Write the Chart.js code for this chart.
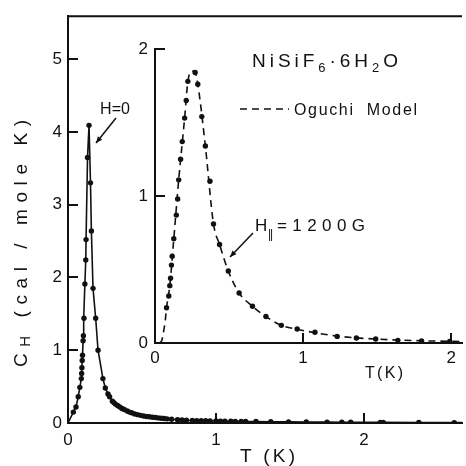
<!DOCTYPE html>
<html><head><meta charset="utf-8">
<script src="https://cdn.jsdelivr.net/npm/chart.js@4.4.1/dist/chart.umd.min.js"></script>
<style>
html,body{margin:0;padding:0;background:#fff;}
#wrap{position:relative;width:466px;height:466px;overflow:hidden;background:#fff;}
#main{position:absolute;left:0;top:0;}
#inset{position:absolute;left:100px;top:25px;}
</style></head><body>
<div id="wrap">
<canvas id="main" width="466" height="466"></canvas>
<canvas id="inset" width="366" height="370"></canvas>
</div>
<script>
// ---- Main plot: H = 0 data (T in K, C_H in cal/mole K)
const mainT = [0.036,0.054,0.069,0.080,0.090,0.092,0.094,0.096,0.098,0.102,0.104,0.108,0.114,0.120,0.122,0.132,0.142,
  0.152,0.158,0.169,0.187,0.203,0.236,0.252,0.270,0.281,0.30,0.31,0.32,0.335,0.35,0.365,0.38,0.40,0.415,0.43,0.45,0.47,0.49,
  0.51,0.53,0.55,0.57,0.59,0.61,0.63,0.65,0.67,0.70,
  0.74,0.77,0.80,0.84,0.87,0.90,0.93,0.96,1.00,1.03,1.06,1.10,1.13,1.17,1.20,1.27,1.37,1.49,1.61,1.75,1.85,1.91,2.11,2.13,2.37,2.61];
const mainC = [0.15,0.22,0.36,0.49,0.61,0.68,0.76,0.86,0.93,1.13,1.20,1.44,1.91,2.24,2.52,3.65,4.09,
  3.30,2.64,1.85,1.44,1.00,0.61,0.48,0.40,0.36,0.30,0.28,0.26,0.24,0.22,0.20,0.185,0.165,0.15,0.14,0.125,0.115,0.105,
  0.097,0.090,0.085,0.080,0.075,0.070,0.065,0.061,0.057,0.052,
  0.046,0.042,0.038,0.035,0.033,0.031,0.030,0.029,0.027,0.026,0.025,0.024,0.023,0.022,0.021,0.020,0.018,0.016,0.014,0.012,0.011,0.011,0.009,0.009,0.007,0.005];
const mainLineStart = [0, 0];
const mainLineEnd = [2.75, 0.004];
const mainXTicks = [0, 1, 2];
const mainYTicks = [0, 1, 2, 3, 4, 5];

// ---- Inset: H|| = 1200 G data
const insetT = [0.078,0.093,0.100,0.105,0.111,0.116,0.127,0.144,0.153,0.160,0.173,0.184,0.200,0.211,0.222,0.271,0.289,
  0.316,0.340,0.371,0.395,0.436,0.495,0.568,0.658,0.749,0.853,0.96,1.08,1.23,1.36,1.49,1.64,1.80,1.99];
const insetC = [0.24,0.32,0.39,0.44,0.53,0.59,0.71,0.87,0.98,1.11,1.25,1.37,1.53,1.65,1.78,1.84,1.76,
  1.54,1.34,1.10,0.81,0.67,0.49,0.34,0.25,0.18,0.12,0.095,0.073,0.045,0.034,0.027,0.018,0.014,0.011];
// Oguchi model (dashed curve)
const modelT = [0.03,0.045,0.06,0.07,0.078,0.10,0.127,0.16,0.20,0.222,0.25,0.271,0.289,0.34,0.395,0.436,0.495,0.568,0.658,0.749,0.853,0.96,1.08,1.23,1.36,1.49,1.64,1.80,2.1];
const modelC = [0.0,0.015,0.09,0.16,0.24,0.39,0.71,1.11,1.53,1.78,1.85,1.84,1.76,1.34,0.81,0.67,0.49,0.34,0.25,0.18,0.12,0.093,0.07,0.047,0.035,0.027,0.02,0.015,0.01];
const insetXTicks = [0, 1, 2];
const insetYTicks = [0, 1, 2];

const FONT = '"Liberation Sans", Arial, sans-serif';
const INK = '#111';

function pts(xs, ys) { return xs.map((x, i) => ({x: x, y: ys[i]})); }

function partsWidth(ctx, parts) {
  let w = 0, n = 0;
  for (const [t, fs] of parts) { ctx.font = fs + 'px ' + FONT; for (const ch of t) { w += ctx.measureText(ch).width; n++; } }
  return [w, n];
}
function fitParts(ctx, parts, x, y, width) {
  const [w0, n] = partsWidth(ctx, parts);
  const sp = n > 1 ? (width - w0) / (n - 1) : 0;
  let cx = x;
  for (const [t, fs, dy] of parts) {
    ctx.font = fs + 'px ' + FONT;
    for (const ch of t) { ctx.fillText(ch, cx, y + (dy || 0)); cx += ctx.measureText(ch).width + sp; }
  }
}
function arrow(ctx, x1, y1, x2, y2) {
  ctx.save();
  ctx.strokeStyle = INK; ctx.fillStyle = INK; ctx.lineWidth = 1.5;
  ctx.beginPath(); ctx.moveTo(x1, y1); ctx.lineTo(x2, y2); ctx.stroke();
  const a = Math.atan2(y2 - y1, x2 - x1), L = 7, s = 0.4;
  ctx.beginPath();
  ctx.moveTo(x2, y2);
  ctx.lineTo(x2 - L * Math.cos(a - s), y2 - L * Math.sin(a - s));
  ctx.lineTo(x2 - L * Math.cos(a + s), y2 - L * Math.sin(a + s));
  ctx.closePath(); ctx.fill();
  ctx.restore();
}

// inward tick marks drawn at the library's scale positions
function inwardTicks(id, xTicks, yTicks, topBorder) {
  return {
    id: id,
    afterDraw(chart) {
      const ctx = chart.ctx, a = chart.chartArea, xs = chart.scales.x, ys = chart.scales.y;
      ctx.save();
      ctx.setLineDash([]);
      ctx.strokeStyle = INK; ctx.lineWidth = 2;
      ctx.beginPath();
      xTicks.forEach(v => {
        if (v === 0) return;
        const px = Math.round(xs.getPixelForValue(v));
        ctx.moveTo(px, a.bottom); ctx.lineTo(px, a.bottom - 10);
      });
      yTicks.forEach(v => {
        if (v === 0) return;
        const py = Math.round(ys.getPixelForValue(v));
        ctx.moveTo(a.left, py); ctx.lineTo(a.left + 10, py);
      });
      if (topBorder) { ctx.moveTo(a.left - 1, a.top); ctx.lineTo(a.right, a.top); }
      ctx.stroke();
      ctx.restore();
    }
  };
}

function axisOpts(min, max, ticksArr, pad, fit, isX) {
  return {
    type: 'linear', min: min, max: max,
    afterBuildTicks: s => { s.ticks = ticksArr.map(v => ({value: v})); },
    ticks: { padding: pad, color: INK, font: {family: FONT, size: 17}, callback: v => String(v) },
    grid: { display: false, drawTicks: false },
    border: { display: true, color: INK, width: 2 },
    afterFit: s => { if (isX) s.height = fit; else s.width = fit; }
  };
}

const mainLabels = {
  id: 'mainLabels',
  afterDraw(chart) {
    const ctx = chart.ctx;
    ctx.save();
    ctx.fillStyle = INK; ctx.textBaseline = 'alphabetic';
    ctx.save();
    ctx.translate(27, 367); ctx.rotate(-Math.PI / 2);
    fitParts(ctx, [['C', 19, 0], ['H', 15, 3], [' (cal / mole K)', 19, 0]], 0, 0, 247);
    ctx.restore();
    fitParts(ctx, [['T (K)', 19, 0]], 240, 462, 55);
    fitParts(ctx, [['H=0', 16, 0]], 100, 114, 30);
    arrow(ctx, 116, 118, 96, 143);
    ctx.restore();
  }
};

const insetLabels = {
  id: 'insetLabels',
  afterDraw(chart) {
    const ctx = chart.ctx;
    ctx.save();
    ctx.fillStyle = INK; ctx.textBaseline = 'alphabetic';
    fitParts(ctx, [['NiSiF', 19, 0], ['6', 13, 5], ['·', 19, 0], ['6H', 19, 0], ['2', 13, 5], ['O', 19, 0]], 152, 42, 146);
    ctx.save();
    ctx.strokeStyle = INK; ctx.lineWidth = 1.6; ctx.setLineDash([7, 5]);
    ctx.beginPath(); ctx.moveTo(140, 84); ctx.lineTo(189, 84); ctx.stroke();
    ctx.restore();
    fitParts(ctx, [['Oguchi  Model', 16, 0]], 194, 90, 123);
    fitParts(ctx, [['H', 17, 0]], 155, 206, 12);
    fitParts(ctx, [['||', 12, 0]], 168, 213, 5);
    fitParts(ctx, [['=1200G', 17, 0]], 177, 206, 88);
    arrow(ctx, 153, 208, 130, 232);
    fitParts(ctx, [['T(K)', 16, 0]], 265, 353, 38);
    ctx.restore();
  }
};

new Chart(document.getElementById('main'), {
  type: 'scatter',
  data: {
    datasets: [
      { label: 'H=0 curve', data: [{x: mainLineStart[0], y: mainLineStart[1]}].concat(pts(mainT, mainC), [{x: mainLineEnd[0], y: mainLineEnd[1]}]),
        showLine: true, borderColor: INK, borderWidth: 1.6, pointRadius: 0, tension: 0 },
      { label: 'H=0', data: pts(mainT, mainC), showLine: false, pointRadius: 2.7,
        pointBackgroundColor: INK, pointBorderWidth: 0 }
    ]
  },
  options: {
    responsive: false, animation: false, devicePixelRatio: 1,
    layout: { padding: { top: 12, right: 0, left: 0, bottom: 0 } },
    plugins: { legend: { display: false }, tooltip: { enabled: false } },
    scales: {
      x: axisOpts(0, 2.662, mainXTicks, 7, 43, true),
      y: axisOpts(0, 5.59, mainYTicks, 6, 68, false)
    }
  },
  plugins: [inwardTicks('mainTicks', mainXTicks, mainYTicks, true), mainLabels]
});

new Chart(document.getElementById('inset'), {
  type: 'scatter',
  data: {
    datasets: [
      { label: 'Oguchi Model', data: pts(modelT, modelC), showLine: true, borderColor: INK, borderWidth: 1.6,
        borderDash: [7, 5], pointRadius: 0, tension: 0.3, cubicInterpolationMode: 'monotone' },
      { label: 'H||=1200G', data: pts(insetT, insetC), showLine: false, pointRadius: 2.7,
        pointBackgroundColor: INK, pointBorderWidth: 0 }
    ]
  },
  options: {
    responsive: false, animation: false, devicePixelRatio: 1,
    layout: { padding: { top: 24, right: 0, left: 0, bottom: 0 } },
    plugins: { legend: { display: false }, tooltip: { enabled: false } },
    scales: {
      x: axisOpts(0, 2.073, insetXTicks, 5, 52, true),
      y: axisOpts(0, 2, insetYTicks, 7, 55, false)
    }
  },
  plugins: [inwardTicks('insetTicks', insetXTicks, insetYTicks, false), insetLabels]
});
</script>
</body></html>
